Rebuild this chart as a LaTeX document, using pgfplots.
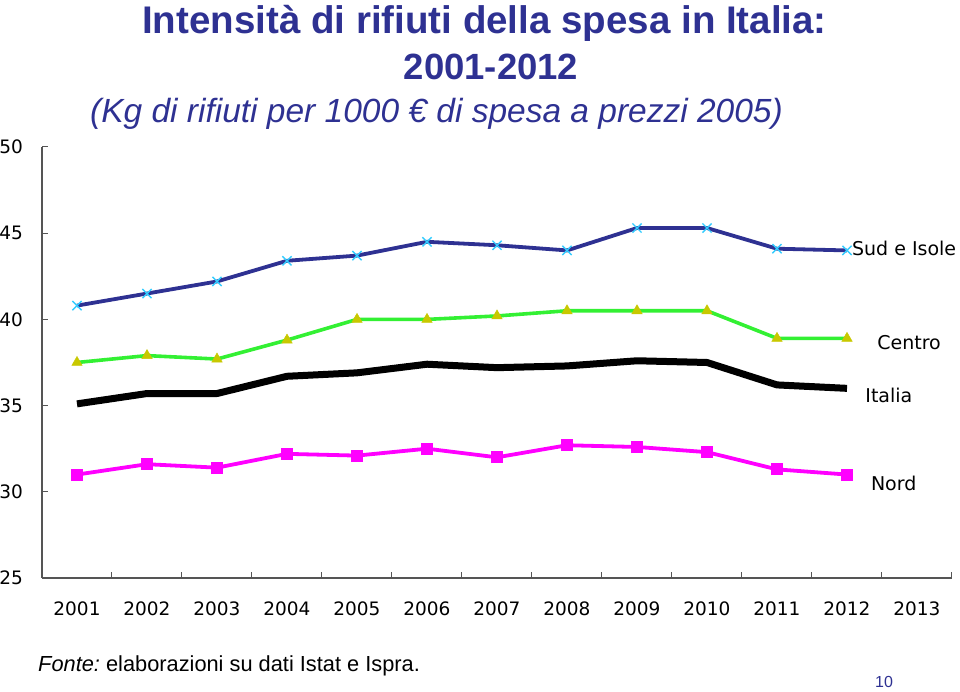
\documentclass[border=0pt]{standalone}
\usepackage{fontspec}
\setmainfont{Liberation Sans}
\newfontfamily\dejavu{DejaVu Sans}
\usepackage{pgfplots}
\pgfplotsset{compat=1.18}
\definecolor{navy}{HTML}{2E3192}
\definecolor{cyanmark}{HTML}{33CCFF}
\definecolor{greenline}{HTML}{33F033}
\definecolor{olivemark}{HTML}{C8C800}
\definecolor{magline}{HTML}{FF00FF}
\definecolor{axgray}{HTML}{555555}
\begin{document}
\begin{tikzpicture}[x=1pt,y=1pt]
\path[use as bounding box] (0,0) rectangle (960,692);
\begin{axis}[
  at={(42pt,114pt)}, anchor=south west,
  scale only axis, width=910pt, height=431pt,
  xmin=2000.5, xmax=2013.5, ymin=25, ymax=50,
  axis lines*=left,
  axis line style={axgray, line width=1.2pt},
  clip=false,
  tick align=inside,
  major tick length=6pt,
  tick style={axgray, line width=1pt},
  ytick={25,30,35,40,45,50},
  xtick={2000.5,2001.5,...,2013.5},
  xticklabels={},
  extra x ticks={2001,2002,...,2013},
  extra x tick labels={2001,2002,2003,2004,2005,2006,2007,2008,2009,2010,2011,2012,2013},
  extra x tick style={major tick length=0pt},
  /pgf/number format/assume math mode=true,
  ticklabel style={font=\dejavu\fontsize{18.5}{20}\selectfont, inner sep=0pt},
  yticklabel style={anchor=east},
  yticklabel shift=19pt,
  xticklabel style={anchor=base},
  xticklabel shift=38pt,
]
\addplot[navy, line width=3.8pt, mark=x, mark size=6.5pt, mark options={cyanmark, line width=1.4pt}] coordinates {
(2001,40.8)(2002,41.5)(2003,42.2)(2004,43.4)(2005,43.7)(2006,44.5)(2007,44.3)(2008,44.0)(2009,45.3)(2010,45.3)(2011,44.1)(2012,44.0)};
\addplot[greenline, line width=3.6pt, mark=triangle*, mark size=6pt, mark options={fill=olivemark, draw=olivemark, line width=0.5pt}] coordinates {
(2001,37.5)(2002,37.9)(2003,37.7)(2004,38.8)(2005,40.0)(2006,40.0)(2007,40.2)(2008,40.5)(2009,40.5)(2010,40.5)(2011,38.9)(2012,38.9)};
\addplot[black, line width=7pt, line join=round] coordinates {
(2001,35.1)(2002,35.7)(2003,35.7)(2004,36.7)(2005,36.9)(2006,37.4)(2007,37.2)(2008,37.3)(2009,37.6)(2010,37.5)(2011,36.2)(2012,36.0)};
\addplot[magline, line width=3.8pt, mark=square*, mark size=5.5pt, mark options={fill=magline, draw=magline, line width=0pt}] coordinates {
(2001,31.0)(2002,31.6)(2003,31.4)(2004,32.2)(2005,32.1)(2006,32.5)(2007,32.0)(2008,32.7)(2009,32.6)(2010,32.3)(2011,31.3)(2012,31.0)};
\node[anchor=west, inner sep=0pt, font=\dejavu\fontsize{19}{21}\selectfont] at (axis cs:2012.07,44.14) {Sud e Isole};
\node[anchor=west, inner sep=0pt, font=\dejavu\fontsize{19}{21}\selectfont] at (axis cs:2012.43,38.63) {Centro};
\node[anchor=west, inner sep=0pt, font=\dejavu\fontsize{19}{21}\selectfont] at (axis cs:2012.26,35.61) {Italia};
\node[anchor=west, inner sep=0pt, font=\dejavu\fontsize{19}{21}\selectfont] at (axis cs:2012.34,30.51) {Nord};
\end{axis}
\node[anchor=base, text=navy, font=\bfseries\fontsize{38.5}{44}\selectfont, inner sep=0pt] at (484.5,658) {Intensità di rifiuti della spesa in Italia:};
\node[anchor=base, text=navy, font=\bfseries\fontsize{36.5}{42}\selectfont, inner sep=0pt] at (491,612) {2001-2012};
\node[anchor=base, text=navy, font=\itshape\fontsize{33.5}{40}\selectfont, inner sep=0pt] at (436.5,569) {(Kg di rifiuti per 1000 € di spesa a prezzi 2005)};
\node[anchor=base west, font=\fontsize{21.8}{26}\selectfont, inner sep=0pt] at (38,20) {\textit{Fonte:}\ elaborazioni su dati Istat e Ispra.};
\node[anchor=base, text=navy, font=\fontsize{16}{19}\selectfont, inner sep=0pt] at (884,4) {10};
\end{tikzpicture}
\end{document}
